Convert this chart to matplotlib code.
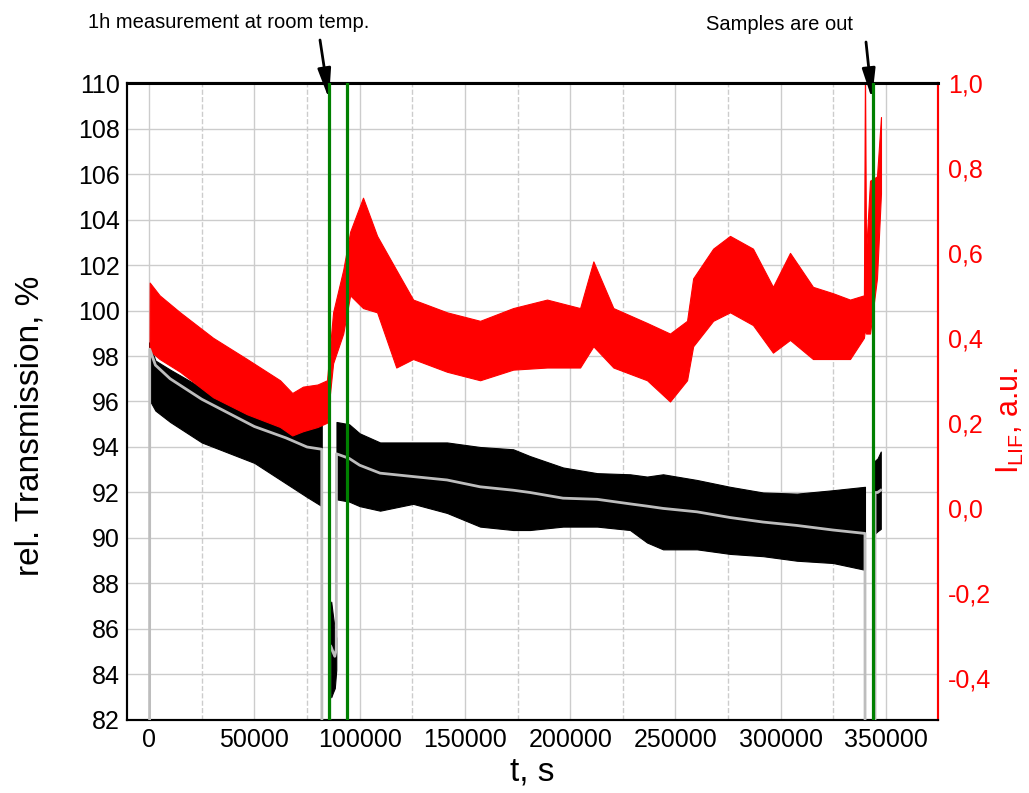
import numpy as np
import matplotlib
matplotlib.use("Agg")
import matplotlib.pyplot as plt
from matplotlib.ticker import MultipleLocator, FuncFormatter

plt.rcParams['font.family'] = ['Liberation Sans', 'DejaVu Sans']

# transmission, raw signal envelope (three pieces)
seg1_t = [0, 3000, 10000, 25000, 50000, 65000, 75000, 82000]
seg1_hi = [98.6, 97.8, 97.4, 96.6, 95.5, 95.2, 95.0, 95.1]
seg1_lo = [96.1, 95.6, 95.1, 94.2, 93.3, 92.4, 91.8, 91.4]

seg_rt_t = [85800, 86500, 87300, 88200, 88900]
seg_rt_hi = [86.8, 87.2, 86.6, 86.0, 85.6]
seg_rt_lo = [83.4, 83.0, 83.2, 83.4, 84.2]

seg2_t = [89000, 95000, 100000, 109700, 125400, 141500, 157200, 172900, 180900,
          196600, 212800, 228400, 236500, 244100, 260200, 275900, 291600, 307700,
          324800, 340000]
seg2_hi = [95.1, 95.0, 94.6, 94.2, 94.2, 94.2, 94.0, 93.9, 93.6, 93.1, 92.85, 92.8,
           92.7, 92.8, 92.55, 92.25, 92.0, 91.95, 92.1, 92.25]
seg2_lo = [91.7, 91.6, 91.4, 91.2, 91.5, 91.1, 90.5, 90.35, 90.35, 90.5, 90.5, 90.35,
           89.8, 89.5, 89.5, 89.3, 89.2, 89.0, 88.9, 88.6]

seg3_t = [344800, 346000, 347500]
seg3_hi = [93.4, 93.5, 93.8]
seg3_lo = [90.2, 90.3, 90.4]

# smoothed transmission (gray); 0 = no signal
gray_t = [0, 300, 3000, 10000, 25000, 50000, 65000, 75000, 82000, 82600, 85700,
          85800, 86500, 87300, 88200, 88900,
          89000, 95000, 100000, 109700, 125400, 141500, 157200, 172900, 180900,
          196600, 212800, 228400, 236500, 244100, 260200, 275900, 291600, 307700,
          324800, 340000, 340400, 344500, 344800, 346000, 347500]
gray_v = [0, 98.3, 97.6, 97.0, 96.1, 94.9, 94.4, 94.0, 93.9, 0, 0,
          85.3, 85.2, 85.0, 84.8, 85.1,
          93.7, 93.5, 93.2, 92.85, 92.7, 92.55, 92.25, 92.1, 92.0,
          91.75, 91.7, 91.5, 91.4, 91.3, 91.15, 90.9, 90.7, 90.55,
          90.35, 90.2, 0, 0, 92.0, 92.0, 92.1]

# LIF intensity envelope (red)
red_t = [0, 300, 5000, 14700, 30400, 46500, 62200, 68000, 73100, 80000, 84500,
         87400, 92200, 95500, 101600, 108300, 117400, 125400, 141500, 157200,
         172900, 189000, 204700, 211000, 220500, 236500, 247400, 255500, 258400,
         267900, 275900, 286800, 296300, 304400, 315300, 324800, 332900, 339500,
         340000, 340500, 342400, 345700, 347600]
red_hi = [0.0, 0.53, 0.50, 0.46, 0.40, 0.35, 0.30, 0.27, 0.285, 0.29, 0.30,
          0.46, 0.56, 0.65, 0.73, 0.64, 0.56, 0.49, 0.46, 0.44,
          0.47, 0.49, 0.47, 0.58, 0.47, 0.435, 0.41, 0.44, 0.54,
          0.61, 0.64, 0.61, 0.52, 0.60, 0.52, 0.505, 0.49, 0.50,
          1.05, 0.60, 0.77, 0.78, 0.92]
red_lo = [0.0, 0.37, 0.35, 0.32, 0.26, 0.22, 0.19, 0.17, 0.18, 0.19, 0.20,
          0.34, 0.41, 0.50, 0.47, 0.46, 0.33, 0.35, 0.32, 0.30,
          0.325, 0.33, 0.33, 0.38, 0.33, 0.30, 0.25, 0.30, 0.38,
          0.44, 0.46, 0.43, 0.365, 0.395, 0.35, 0.35, 0.35, 0.40,
          0.42, 0.41, 0.41, 0.54, 0.74]

# event markers
green_t = [85500, 94000, 343800]

fig = plt.figure(figsize=(10.29, 7.93), dpi=100)
ax = fig.add_axes([0.1234, 0.0921, 0.7882, 0.8032])
ax2 = ax.twinx()

# black raw band
for t, lo, hi in [(seg1_t, seg1_lo, seg1_hi), (seg_rt_t, seg_rt_lo, seg_rt_hi),
                  (seg2_t, seg2_lo, seg2_hi), (seg3_t, seg3_lo, seg3_hi)]:
    ax.fill_between(t, lo, hi, color='black', lw=0.8, zorder=2)

# red LIF band on the right axis
ax2.fill_between(red_t, red_lo, red_hi, color='#ff0000', lw=0.8, zorder=2)
# gray smoothed line above red
ax2.plot(gray_t, gray_v, color='#bdbdbd', lw=2, zorder=3, transform=ax.transData)

for g in green_t:
    ax2.axvline(g, color='#008000', lw=2.3, zorder=4)

ax.set_xlim(-10500, 374700)
ax.set_ylim(82, 110)
ax2.set_ylim(-0.5, 1.0)

ax.xaxis.set_major_locator(MultipleLocator(50000))
ax.xaxis.set_minor_locator(MultipleLocator(25000))
ax.yaxis.set_major_locator(MultipleLocator(2))
ax2.set_yticks([-0.4, -0.2, 0.0, 0.2, 0.4, 0.6, 0.8, 1.0])
ax2.yaxis.set_major_formatter(FuncFormatter(lambda v, p: f"{v:.1f}".replace('.', ',').replace('-0,0', '0,0')))

ax.grid(True, which='major', color='#cccccc', lw=1.0)
ax.grid(True, which='minor', axis='x', color='#cccccc', lw=1.0, ls='--')
ax.set_axisbelow(True)

ax.tick_params(axis='y', length=0, labelsize=18, pad=5)
ax.tick_params(axis='x', which='both', direction='in', length=0, labelsize=18, pad=6)
ax2.tick_params(axis='y', length=0, labelsize=18, pad=7, colors='#ff0000')

for a in (ax, ax2):
    for s in ('left', 'top', 'bottom'):
        a.spines[s].set_color('black')
        a.spines[s].set_linewidth(1.5)
    a.spines['right'].set_color('#ff0000')
    a.spines['right'].set_linewidth(1.5)
ax2.spines['top'].set_linewidth(2.2)

ax.set_xlabel('t, s', fontsize=24)
ax.xaxis.set_label_coords(0.5, -0.058)
ax.set_ylabel('rel. Transmission, %', fontsize=24)
ax.yaxis.set_label_coords(-0.101, 0.4615)
ax2.set_ylabel(r'$\mathregular{I_{LIF}}$, a.u.', fontsize=22, color='#ff0000')
ax2.yaxis.set_label_coords(1.0703, 0.471)

# annotations
fig.text(229 / 1029, 1 - 22 / 793, '1h measurement at room temp.', fontsize=14.5,
         ha='center', va='center')
fig.text(780 / 1029, 1 - 24 / 793, 'Samples are out', fontsize=14.5,
         ha='center', va='center')
for tail, tip in [((320, 40), (329, 99)), ((866, 42), (872, 99))]:
    ax.annotate('', xy=(tip[0], 793 - tip[1]), xycoords='figure pixels',
                xytext=(tail[0], 793 - tail[1]), textcoords='figure pixels',
                arrowprops=dict(arrowstyle='-|>,head_length=1.0,head_width=0.22',
                                mutation_scale=18, color='black', lw=2,
                                shrinkA=0, shrinkB=0),
                annotation_clip=False, zorder=6)

fig.savefig('out.png', dpi=100)
